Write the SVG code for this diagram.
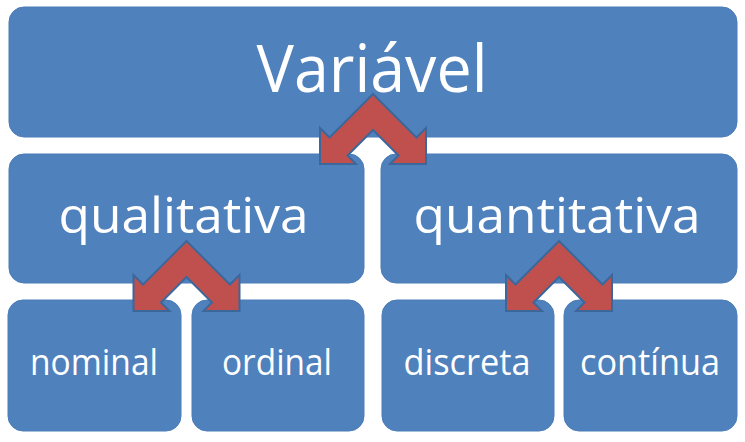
<svg xmlns="http://www.w3.org/2000/svg" width="745" height="442" viewBox="0 0 745 442">
<style>
.box{fill:#4f81bd;stroke:#4a7cb8;stroke-width:1}
.t{font-family:"Open Sans","Liberation Sans",sans-serif;fill:#ffffff;text-anchor:middle}
.big{font-size:66px}
.mid{font-size:50px}
.sm{font-size:36px}
.arr{fill:#c0504d;stroke:#3c679b;stroke-width:2;stroke-linejoin:miter}
</style>
<defs>
<path id="chev" d="M0,0 L-43.5,43.5 L-53,34 L-53,70 L-17,70 L-25.5,61.5 L0,36 L25.5,61.5 L17,70 L53,70 L53,34 L43.5,43.5 Z"/>
</defs>
<rect width="745" height="442" fill="#ffffff"/>
<g id="variavel"><rect class="box" x="9" y="7" width="728" height="130" rx="15"/><text class="t big" x="372" y="92" textLength="231" lengthAdjust="spacingAndGlyphs">Variável</text></g>
<g id="qualitativa"><rect class="box" x="9" y="154" width="355" height="129" rx="15"/><text class="t mid" x="183.5" y="233" textLength="250" lengthAdjust="spacingAndGlyphs">qualitativa</text></g>
<g id="quantitativa"><rect class="box" x="381" y="154" width="356" height="129" rx="15"/><text class="t mid" x="557" y="233" textLength="287" lengthAdjust="spacingAndGlyphs">quantitativa</text></g>
<g id="nominal"><rect class="box" x="8" y="300" width="173" height="131" rx="15"/><text class="t sm" x="94" y="375" textLength="128" lengthAdjust="spacingAndGlyphs">nominal</text></g>
<g id="ordinal"><rect class="box" x="192" y="300" width="172" height="131" rx="15"/><text class="t sm" x="277" y="375" textLength="110" lengthAdjust="spacingAndGlyphs">ordinal</text></g>
<g id="discreta"><rect class="box" x="382" y="300" width="172" height="131" rx="15"/><text class="t sm" x="467" y="375" textLength="127" lengthAdjust="spacingAndGlyphs">discreta</text></g>
<g id="continua"><rect class="box" x="564" y="300" width="173" height="131" rx="15"/><text class="t sm" x="650" y="375" textLength="140" lengthAdjust="spacingAndGlyphs">contínua</text></g>
<g id="connectors">
<use href="#chev" class="arr" transform="translate(373,94)"/>
<use href="#chev" class="arr" transform="translate(186.5,241)"/>
<use href="#chev" class="arr" transform="translate(559,241)"/>
</g>
</svg>
